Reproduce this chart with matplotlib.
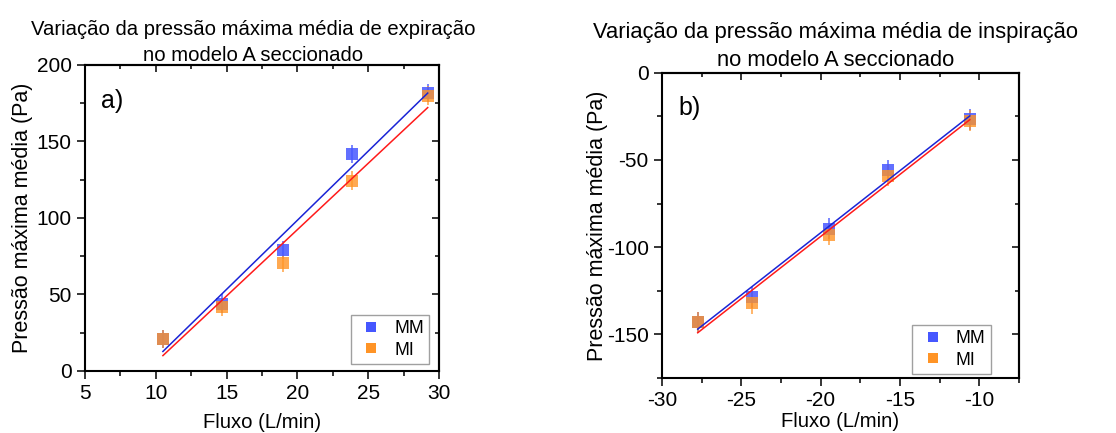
import matplotlib
matplotlib.use('Agg')
import matplotlib.pyplot as plt
import numpy as np
from matplotlib.ticker import MultipleLocator
from matplotlib.lines import Line2D

plt.rcParams['font.family'] = ['Liberation Sans', 'DejaVu Sans']

# (a) expiração
fluxo_exp = [10.5, 14.7, 18.95, 23.85, 29.2]
mm_exp = [21, 44, 79, 142, 181.5]
mm_exp_err = [6, 6, 6, 6, 6]
mi_exp = [21, 42, 70.4, 124.4, 180]
mi_exp_err = [6, 6, 5.7, 6, 6]

# (b) inspiração
fluxo_ins = [-27.75, -24.3, -19.5, -15.75, -10.6]
mm_ins = [-143, -128.6, -89.5, -56, -26.7]
mm_ins_err = [6, 6, 6, 6, 6]
mi_ins = [-143, -132.2, -92.8, -59, -27.4]
mi_ins_err = [6, 6, 6, 6, 6]

COR_MM = '#4657ff'
COR_MI = '#ff9426'
LINHA_MM = '#1a24d6'
LINHA_MI = '#ff1a1a'


def painel(ax, x, mm, mm_err, mi, mi_err, titulo, letra, tx, tfs, tpad,
           xmaj, ymaj, leg_pos):
    x = np.array(x)
    ax.errorbar(x, mm, yerr=mm_err, fmt='s', color=COR_MM, ms=8, mew=0,
                ecolor=COR_MM, elinewidth=1.2, capsize=3.2, capthick=1.2,
                alpha=0.85, zorder=3)
    ax.errorbar(x, mi, yerr=mi_err, fmt='s', color=COR_MI, ms=8, mew=0,
                ecolor=COR_MI, elinewidth=1.2, capsize=3.2, capthick=1.2,
                alpha=0.8, zorder=3)
    # ajuste linear
    for y, cor in [(mm, LINHA_MM), (mi, LINHA_MI)]:
        a, b = np.polyfit(x, y, 1)
        xs = np.array([x.min(), x.max()])
        ax.plot(xs, a * xs + b, color=cor, lw=1.1, zorder=4)

    ax.set_title(titulo, fontsize=tfs, pad=tpad, x=tx, linespacing=1.45)
    ax.text(0.045, 0.86, letra, transform=ax.transAxes, fontsize=18)
    ax.set_xlabel('Fluxo (L/min)', fontsize=14.6)
    ax.set_ylabel('Pressão máxima média (Pa)', fontsize=15.5)

    ax.xaxis.set_major_locator(MultipleLocator(xmaj))
    ax.xaxis.set_minor_locator(MultipleLocator(xmaj / 2))
    ax.yaxis.set_major_locator(MultipleLocator(ymaj))
    ax.yaxis.set_minor_locator(MultipleLocator(ymaj / 2))
    ax.tick_params(which='both', labelsize=15, width=1.1, direction='out')
    ax.tick_params(which='major', length=6)
    ax.tick_params(which='minor', length=3.5)
    for sp in ax.spines.values():
        sp.set_linewidth(1.5)

    # ticks espelhados para dentro (topo e direita)
    topo = ax.secondary_xaxis('top')
    dire = ax.secondary_yaxis('right')
    for sec, eixo, passo in [(topo, topo.xaxis, xmaj), (dire, dire.yaxis, ymaj)]:
        eixo.set_major_locator(MultipleLocator(passo))
        eixo.set_minor_locator(MultipleLocator(passo / 2))
        sec.tick_params(which='both', direction='in', width=1.1,
                        labeltop=False, labelright=False)
        sec.tick_params(which='major', length=5)
        sec.tick_params(which='minor', length=3)
        for sp in sec.spines.values():
            sp.set_linewidth(1.5)

    alcas = [Line2D([], [], ls='', marker='s', ms=7, mew=0, color=COR_MM),
             Line2D([], [], ls='', marker='s', ms=7, mew=0, color=COR_MI)]
    leg = ax.legend(alcas, ['MM', 'MI'], loc='lower right',
                    bbox_to_anchor=leg_pos, fontsize=12.8,
                    frameon=True, fancybox=False, edgecolor='#888888',
                    handletextpad=0.45, borderpad=0.3, labelspacing=0.25,
                    handlelength=1.7, borderaxespad=0)
    leg.get_frame().set_linewidth(1.0)
    return ax


fig = plt.figure(figsize=(11.16, 4.33), dpi=100)
ax1 = fig.add_axes([0.0762, 0.1432, 0.3172, 0.7067])
ax2 = fig.add_axes([0.5932, 0.127, 0.3199, 0.7051])

painel(ax1, fluxo_exp, mm_exp, mm_exp_err, mi_exp, mi_exp_err,
       'Variação da pressão máxima média de expiração\nno modelo A seccionado',
       'a)', 0.475, 14.6, 3, 5, 50, (0.9726, 0.0229))
ax1.set_xlim(5, 30)
ax1.set_ylim(0, 200)
ax1.yaxis.set_label_coords(-0.148, 0.5)
ax1.xaxis.set_label_coords(0.5, -0.138)

painel(ax2, fluxo_ins, mm_ins, mm_ins_err, mi_ins, mi_ins_err,
       'Variação da pressão máxima média de inspiração\nno modelo A seccionado',
       'b)', 0.485, 15.8, 5, 5, 50, (0.9207, 0.013))
ax2.set_xlim(-30, -7.5)
ax2.set_ylim(-175, 0)
ax2.yaxis.set_label_coords(-0.152, 0.5)
ax2.xaxis.set_label_coords(0.5, -0.11)
ax2.set_xticks([-30, -25, -20, -15, -10])
ax2.set_xticklabels(['-30', '-25', '-20', '-15', '-10'])
ax2.set_yticks([0, -50, -100, -150])
ax2.set_yticklabels(['0', '-50', '-100', '-150'])

fig.savefig('out.png', dpi=100)
